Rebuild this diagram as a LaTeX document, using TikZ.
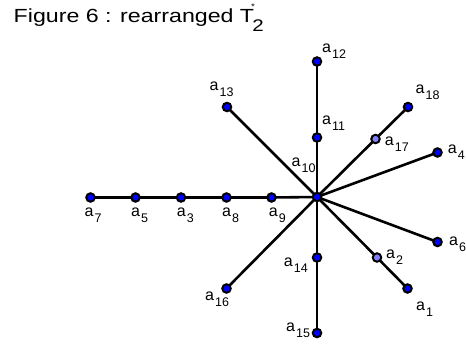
\documentclass[tikz,border=0pt]{standalone}
\usepackage{fontspec}
\setmainfont{Liberation Sans}
\usetikzlibrary{backgrounds}
\definecolor{dotblue}{RGB}{0,0,255}
\definecolor{dotlight}{RGB}{128,128,255}
\newcommand{\lbl}[1]{a\kern1pt\raisebox{-6pt}{\fontsize{12.5}{12.5}\selectfont #1}}
\tikzset{
  dot/.style={circle, draw=black, line width=2pt, fill=dotblue, inner sep=0pt, minimum size=8.5pt},
  dotl/.style={dot, fill=dotlight},
  edgeline/.style={line width=2.6pt, black},
  lab/.style={anchor=base west, inner sep=0pt, font=\fontsize{16}{16}\selectfont},
}
\begin{document}
\begin{tikzpicture}[x=1pt, y=-1pt]
\useasboundingbox (0,0) rectangle (466,345);
\node[anchor=base west, inner sep=0pt, font=\fontsize{19}{19}\selectfont] (title) at (13.5,22.7)
  {\scalebox{1.22}[1]{Figure 6 : rearranged T\rlap{\kern-2.5pt\raisebox{13pt}{\fontsize{8}{8}\selectfont *}}\kern-1.5pt\raisebox{-9.3pt}{\fontsize{16.8}{16.8}\selectfont 2}}};
% nodes
\node[dot] (a10) at (317,197) {};
\node[dot] (a12) at (317,61.5) {};
\node[dot] (a11) at (317,137.5) {};
\node[dot] (a13) at (227,107) {};
\node[dot] (a18) at (408,107) {};
\node[dotl] (a17) at (375.5,139) {};
\node[dot] (a4) at (437.5,152.5) {};
\node[dot] (a6) at (437.5,242) {};
\node[dotl] (a2) at (377,257.5) {};
\node[dot] (a1) at (407.5,288.5) {};
\node[dot] (a14) at (317,257.5) {};
\node[dot] (a15) at (317,333) {};
\node[dot] (a16) at (226.5,288.5) {};
\node[dot] (a7) at (90.5,197.5) {};
\node[dot] (a5) at (135.5,197.5) {};
\node[dot] (a3) at (181,197.5) {};
\node[dot] (a8) at (226.5,197.5) {};
\node[dot] (a9) at (271.5,197.5) {};
% edges
\begin{scope}[on background layer]
\draw[edgeline] (a7.center) -- (a5.center) -- (a3.center) -- (a8.center) -- (a9.center) -- (a10.center);
\draw[edgeline] (a10.center) -- (a11.center) -- (a12.center);
\draw[edgeline] (a10.center) -- (a13.center);
\draw[edgeline] (a10.center) -- (a17.center) -- (a18.center);
\draw[edgeline] (a10.center) -- (a4.center);
\draw[edgeline] (a10.center) -- (a6.center);
\draw[edgeline] (a10.center) -- (a2.center) -- (a1.center);
\draw[edgeline] (a10.center) -- (a14.center) -- (a15.center);
\draw[edgeline] (a10.center) -- (a16.center);
\end{scope}
% labels
\node[lab] (l12) at (322,52.3) {\lbl{12}};
\node[lab] (l13) at (209.5,90) {\lbl{13}};
\node[lab] (l18) at (415.5,93) {\lbl{18}};
\node[lab] (l11) at (322,124.3) {\lbl{11}};
\node[lab] (l10) at (291.5,166) {\lbl{10}};
\node[lab] (l17) at (384.7,145) {\lbl{17}};
\node[lab] (l4) at (447.7,153.3) {\lbl{4}};
\node[lab] (l6) at (449,245) {\lbl{6}};
\node[lab] (l7) at (84.5,216.7) {\lbl{7}};
\node[lab] (l5) at (131,216.7) {\lbl{5}};
\node[lab] (l3) at (176.7,216.7) {\lbl{3}};
\node[lab] (l8) at (222,216.7) {\lbl{8}};
\node[lab] (l9) at (268.7,216) {\lbl{9}};
\node[lab] (l2) at (386,258.3) {\lbl{2}};
\node[lab] (l14) at (283.7,266.7) {\lbl{14}};
\node[lab] (l16) at (205,300) {\lbl{16}};
\node[lab] (l1) at (416,310) {\lbl{1}};
\node[lab] (l15) at (286,331.7) {\lbl{15}};
\end{tikzpicture}
\end{document}
